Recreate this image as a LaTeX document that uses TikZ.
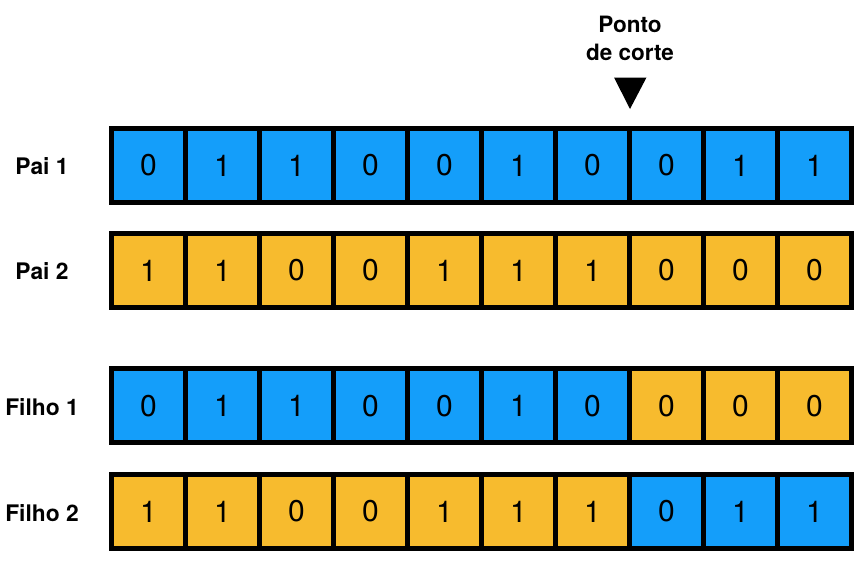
\documentclass[tikz,border=0pt]{standalone}
\usepackage{fontspec}
\setmainfont{TeX Gyre Heros}
\definecolor{geneblue}{RGB}{20,158,250}
\definecolor{geneorange}{RGB}{247,187,46}
\begin{document}
\begin{tikzpicture}[x=1pt,y=-1pt,
  cell/.style={draw=black,line width=5pt,minimum width=74pt,minimum height=74pt,inner sep=0pt,font=\fontsize{30}{30}\selectfont},
  bcell/.style={cell,fill=geneblue},
  ocell/.style={cell,fill=geneorange},
  rowlabel/.style={font=\fontsize{22.8}{22.8}\selectfont\bfseries,anchor=center}]
\useasboundingbox (0,0) rectangle (864,570);
% rows
\def\rowA{0/b,1/b,1/b,0/b,0/b,1/b,0/b,0/b,1/b,1/b}
\def\rowB{1/o,1/o,0/o,0/o,1/o,1/o,1/o,0/o,0/o,0/o}
\def\rowC{0/b,1/b,1/b,0/b,0/b,1/b,0/b,0/o,0/o,0/o}
\def\rowD{1/o,1/o,0/o,0/o,1/o,1/o,1/o,0/b,1/b,1/b}
\foreach \v/\c [count=\i] in \rowA { \node[\c cell] (a\i) at ({111.5+74*(\i-0.5)},165.5) {\v}; }
\foreach \v/\c [count=\i] in \rowB { \node[\c cell] (b\i) at ({111.5+74*(\i-0.5)},270.5) {\v}; }
\foreach \v/\c [count=\i] in \rowC { \node[\c cell] (c\i) at ({111.5+74*(\i-0.5)},405.8) {\v}; }
\foreach \v/\c [count=\i] in \rowD { \node[\c cell] (d\i) at ({111.5+74*(\i-0.5)},511.5) {\v}; }
% labels
\node[rowlabel] (la) at (42,166) {Pai 1};
\node[rowlabel] (lb) at (42,271) {Pai 2};
\node[rowlabel] (lc) at (42,407) {Filho 1};
\node[rowlabel] (ld) at (42,513) {Filho 2};
% cut point
\node[font=\fontsize{22.5}{28}\selectfont\bfseries,align=center,anchor=center] (cut) at (630,38.5) {Ponto\\de corte};
\fill[black] (614,77.5) -- (646.5,77.5) -- (630,109) -- cycle;
\end{tikzpicture}
\end{document}
